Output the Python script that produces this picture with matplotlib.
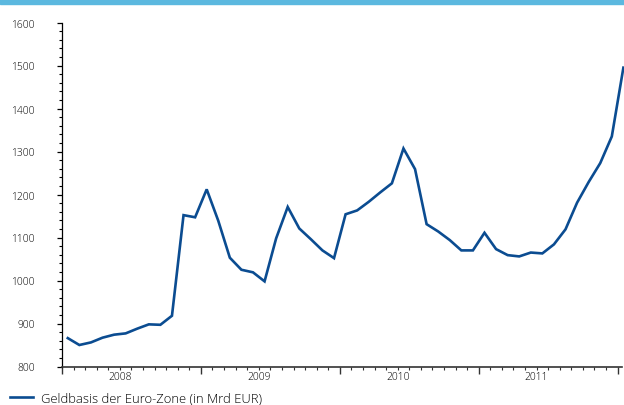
import numpy as np
import matplotlib
matplotlib.use("Agg")
import matplotlib.pyplot as plt
from matplotlib.lines import Line2D
from matplotlib.ticker import MultipleLocator

# Monetary base of the euro area, monthly, billions of EUR
geldbasis = [866, 850, 856, 867, 874, 877, 888, 898, 897, 918,
             1152, 1147, 1212, 1139, 1053, 1025, 1019, 998, 1098, 1171,
             1121, 1096, 1070, 1052, 1154, 1163, 1183, 1205, 1226, 1307,
             1259, 1131, 1114, 1094, 1070, 1070, 1111, 1073, 1059, 1056,
             1065, 1063, 1084, 1119, 1181, 1229, 1273, 1335, 1495]
year_labels = ["2008", "2009", "2010", "2011"]
series_label = "Geldbasis der Euro-Zone (in Mrd EUR)"

LINE_COLOR = "#0b4c91"
BAR_COLOR = "#5bb8df"
TEXT_COLOR = "#000000"
plt.rcParams["font.family"] = ["Open Sans", "DejaVu Sans"]
plt.rcParams["font.weight"] = 300

fig = plt.figure(figsize=(6.24, 4.06), dpi=100)
fig.patches.append(plt.Rectangle((0, 1 - 5 / 406), 1, 5 / 406, transform=fig.transFigure,
                                 color=BAR_COLOR, zorder=0))

ax = fig.add_axes([62 / 624, (406 - 367.5) / 406, 560 / 624, 344 / 406])

months = np.arange(len(geldbasis)) + 0.5
ax.plot(months, geldbasis, color=LINE_COLOR, lw=1.9, solid_joinstyle="miter",
        clip_on=False)

ax.set_xlim(0, 48.38)
ax.set_ylim(800, 1600)

for side in ("top", "right"):
    ax.spines[side].set_visible(False)
ax.spines["left"].set_linewidth(0.9)
ax.spines["bottom"].set_linewidth(1.2)
ax.spines["bottom"].set_color("#333333")

# y axis: labelled every 100, minor ticks every 20
ax.yaxis.set_major_locator(MultipleLocator(100))
ax.yaxis.set_minor_locator(MultipleLocator(20))
ax.tick_params(axis="y", which="major", length=3.5, width=0.9, pad=16,
               labelsize=7.4, labelcolor=TEXT_COLOR)
ax.tick_params(axis="y", which="minor", length=2.5, width=0.8)

# x axis: long ticks at year boundaries, short monthly ticks
ax.set_xticks(np.arange(0, 49, 12))
ax.set_xticklabels([])
ax.set_xticks(np.arange(0, 49, 1), minor=True)
ax.tick_params(axis="x", which="major", length=5, width=1.0, color="#333333")
ax.tick_params(axis="x", which="minor", length=2.5, width=0.8, color="#333333")
for i, lab in enumerate(year_labels):
    ax.text(5 + 12 * i, -0.012, lab, transform=ax.get_xaxis_transform(),
            ha="center", va="top", fontsize=7.4, color=TEXT_COLOR)

# legend below the plot
fig.legend(handles=[Line2D([], [], color=LINE_COLOR, lw=1.9)], labels=[series_label],
           loc="lower left", bbox_to_anchor=(6 / 624, -0.008), frameon=False,
           handlelength=1.8, handletextpad=0.55, fontsize=9.4,
           labelcolor=TEXT_COLOR, borderaxespad=0.0, borderpad=0.3)

fig.savefig("out.png", dpi=100)
